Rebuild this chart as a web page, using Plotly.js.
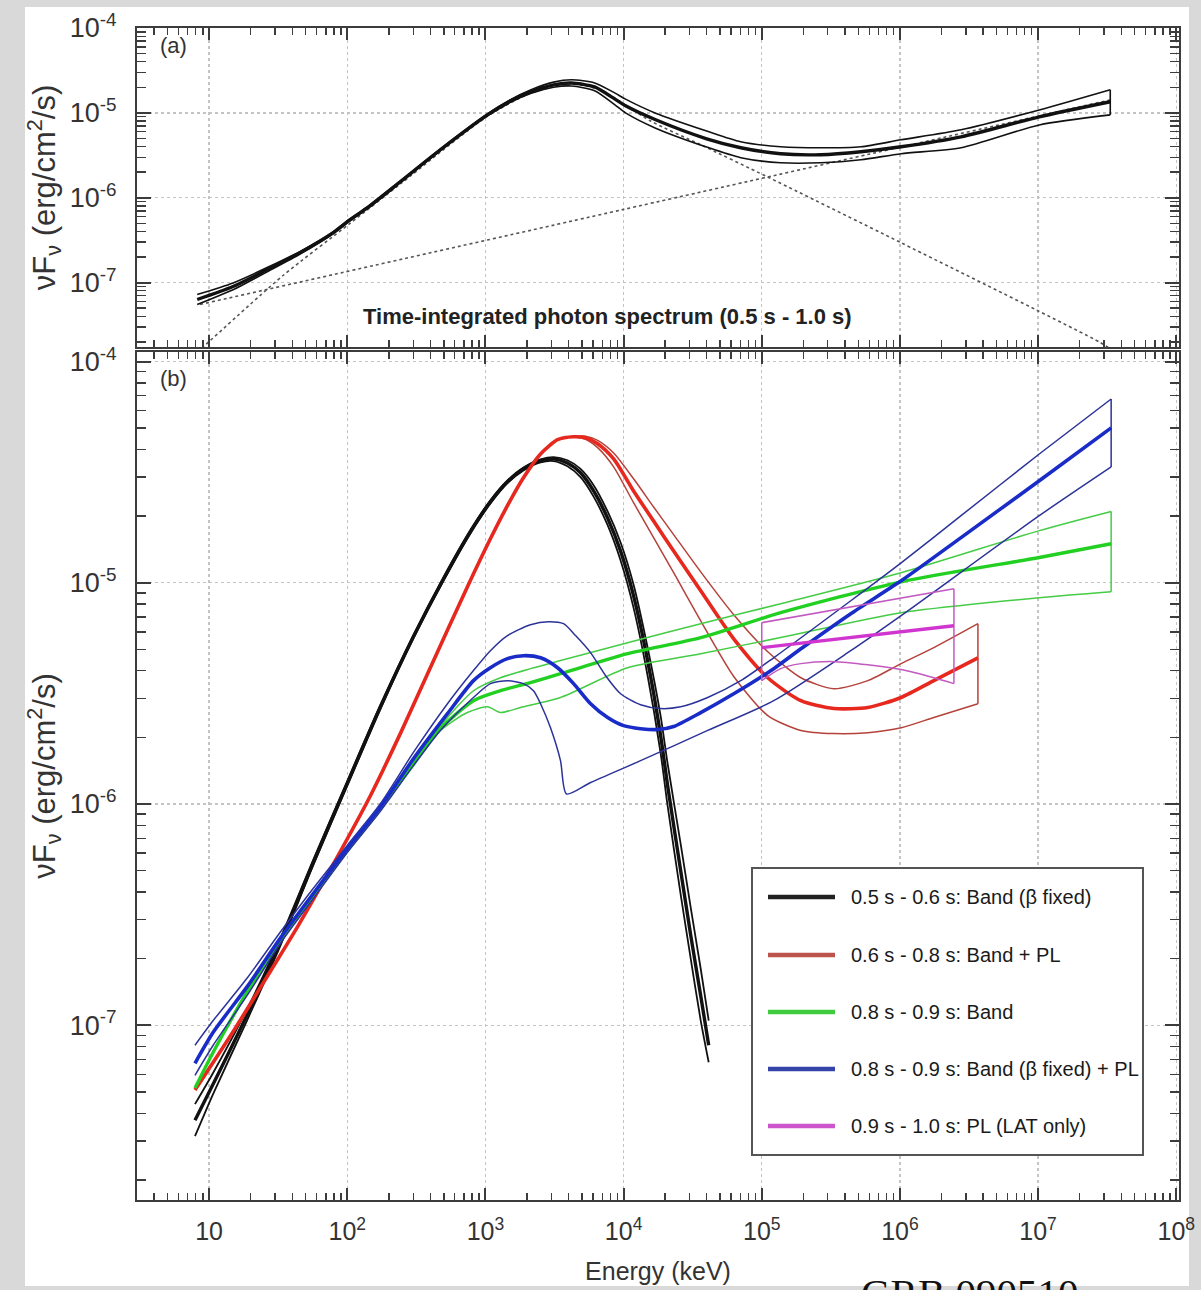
<!DOCTYPE html>
<html>
<head>
<meta charset="utf-8">
<script src="https://cdn.plot.ly/plotly-3.0.1.min.js"></script>
<style>
  html, body { margin: 0; padding: 0; background: #d9d9d9; overflow: hidden; }
  #chart { width: 1201px; height: 1290px; }
</style>
</head>
<body>
<div id="chart"></div>
<script>
// ---------- Panel (a): time-integrated spectrum, 0.5 s - 1.0 s ----------
// energies in keV, fluxes in erg/cm^2/s
const totalEnergy = [8.2, 14.9, 26.3, 45.6, 79.3, 105, 140, 242, 472, 1033, 1517, 2118, 3113, 4198, 6166, 8610, 10330, 17060, 39930, 70470, 1.37e5, 2.68e5, 5.22e5, 1.02e6, 2.77e6, 1.02e7, 3.33e7];
const totalFlux   = [6.31e-8, 8.97e-8, 1.42e-7, 2.25e-7, 3.88e-7, 5.51e-7, 7.63e-7, 1.54e-6, 3.67e-6, 9.46e-6, 1.38e-5, 1.77e-5, 2.14e-5, 2.25e-5, 2.02e-5, 1.46e-5, 1.21e-5, 8.28e-6, 4.94e-6, 3.88e-6, 3.29e-6, 3.21e-6, 3.48e-6, 3.98e-6, 5.22e-6, 8.97e-6, 1.35e-5];
const totalFluxHi = [7.23e-8, 9.9e-8, 1.50e-7, 2.33e-7, 3.98e-7, 5.65e-7, 7.8e-7, 1.58e-6, 3.76e-6, 9.7e-6, 1.43e-5, 1.86e-5, 2.30e-5, 2.45e-5, 2.25e-5, 1.72e-5, 1.45e-5, 9.9e-6, 6.1e-6, 4.56e-6, 3.98e-6, 3.87e-6, 3.98e-6, 4.81e-6, 6.31e-6, 1.08e-5, 1.87e-5];
const totalFluxLo = [5.5e-8, 8.2e-8, 1.34e-7, 2.17e-7, 3.78e-7, 5.37e-7, 7.45e-7, 1.50e-6, 3.58e-6, 9.2e-6, 1.33e-5, 1.69e-5, 2.0e-5, 2.07e-5, 1.82e-5, 1.25e-5, 1.0e-5, 6.6e-6, 3.95e-6, 2.96e-6, 2.58e-6, 2.58e-6, 2.80e-6, 3.3e-6, 3.88e-6, 7.2e-6, 9.46e-6];
// Band and power-law components (dotted)
const bandCompEnergy = [8.2, 34.3, 105, 242, 1033, 2118, 4198, 6814, 15700, 36150, 1.09e5, 1.02e6, 2.81e7, 3.38e7];
const bandCompFlux   = [1.5e-8, 1.21e-7, 5.0e-7, 1.45e-6, 9.1e-6, 1.70e-5, 2.2e-5, 1.85e-5, 8.0e-6, 4.2e-6, 1.77e-6, 2.94e-7, 1.97e-8, 1.63e-8];
const plCompEnergy = [8.6, 9840, 3.33e7];
const plCompFlux   = [5.51e-8, 7.23e-7, 1.42e-5];

// ---------- Panel (b): time-resolved fits ----------
// 0.5 s - 0.6 s: Band (beta fixed)
const blackEnergy = [7.9, 10.7, 18.8, 32.7, 56.8, 100, 173, 301, 497, 778, 1086, 1443, 1884, 2505, 3113, 3925, 4880, 6067, 7665, 9512, 11810, 14920, 18530, 20830, 25880, 30610, 36150, 41300];
const blackFlux   = [3.72e-8, 5.42e-8, 1.11e-7, 2.37e-7, 5.44e-7, 1.24e-6, 2.73e-6, 5.70e-6, 1.04e-5, 1.70e-5, 2.32e-5, 2.86e-5, 3.27e-5, 3.56e-5, 3.63e-5, 3.48e-5, 3.14e-5, 2.60e-5, 1.96e-5, 1.39e-5, 8.73e-6, 4.45e-6, 2.04e-6, 1.21e-6, 5.01e-7, 2.55e-7, 1.36e-7, 8.12e-8];
const blackFluxHi = [4.40e-8, 6.1e-8, 1.18e-7, 2.46e-7, 5.6e-7, 1.27e-6, 2.79e-6, 5.8e-6, 1.06e-5, 1.73e-5, 2.36e-5, 2.90e-5, 3.32e-5, 3.61e-5, 3.70e-5, 3.58e-5, 3.27e-5, 2.76e-5, 2.10e-5, 1.52e-5, 9.8e-6, 5.1e-6, 2.5e-6, 1.52e-6, 6.6e-7, 3.4e-7, 1.8e-7, 1.05e-7];
const blackFluxLo = [3.15e-8, 4.9e-8, 1.05e-7, 2.28e-7, 5.3e-7, 1.21e-6, 2.67e-6, 5.6e-6, 1.02e-5, 1.67e-5, 2.28e-5, 2.82e-5, 3.22e-5, 3.50e-5, 3.55e-5, 3.36e-5, 3.0e-5, 2.45e-5, 1.82e-5, 1.26e-5, 7.7e-6, 3.8e-6, 1.7e-6, 9.8e-7, 3.9e-7, 2.0e-7, 1.05e-7, 6.8e-8];

// 0.6 s - 0.8 s: Band + PL
const redEnergy = [7.9, 14.2, 24.6, 43.4, 75.4, 147, 242, 399, 741, 1086, 1443, 1884, 2505, 3328, 4344, 5306, 6488, 8472, 11810, 16490, 23030, 36150, 62680, 1.105e5, 1.92e5, 3.33e5, 5.86e5, 1.02e6, 1.76e6, 3.67e6];
const redFlux   = [5.09e-8, 8.91e-8, 1.55e-7, 2.77e-7, 5.06e-7, 1.09e-6, 2.08e-6, 4.13e-6, 9.60e-6, 1.58e-5, 2.23e-5, 2.98e-5, 3.82e-5, 4.43e-5, 4.57e-5, 4.52e-5, 4.25e-5, 3.63e-5, 2.60e-5, 1.90e-5, 1.39e-5, 9.20e-6, 5.58e-6, 3.72e-6, 2.93e-6, 2.70e-6, 2.73e-6, 3.03e-6, 3.61e-6, 4.58e-6];
const redBandEnergy = [4344, 5306, 6488, 8472, 11810, 16490, 23030, 36150, 62680, 1.105e5, 1.92e5, 3.33e5, 5.86e5, 1.02e6, 1.76e6, 3.67e6];
const redFluxHi = [4.57e-5, 4.60e-5, 4.40e-5, 3.86e-5, 2.95e-5, 2.20e-5, 1.65e-5, 1.12e-5, 7.17e-6, 4.88e-6, 3.72e-6, 3.32e-6, 3.61e-6, 4.31e-6, 5.09e-6, 6.53e-6];
const redFluxLo = [4.57e-5, 4.45e-5, 4.08e-5, 3.34e-5, 2.30e-5, 1.60e-5, 1.11e-5, 6.73e-6, 3.77e-6, 2.51e-6, 2.15e-6, 2.08e-6, 2.10e-6, 2.21e-6, 2.46e-6, 2.84e-6];

// 0.8 s - 0.9 s: Band
const greenEnergy = [7.9, 10.7, 18.8, 32.7, 56.8, 100, 173, 301, 472, 819, 1285, 2118, 3493, 10690, 36150, 1.37e5, 1.02e6, 1.02e7, 3.38e7];
const greenFlux   = [5.20e-8, 7.55e-8, 1.41e-7, 2.42e-7, 3.86e-7, 6.17e-7, 9.54e-7, 1.51e-6, 2.19e-6, 2.93e-6, 3.25e-6, 3.54e-6, 3.88e-6, 4.78e-6, 5.65e-6, 7.32e-6, 1.01e-5, 1.30e-5, 1.50e-5];
const greenHiEnergy = [301, 472, 819, 1285, 2118, 3493, 10690, 36150, 1.37e5, 1.02e6, 1.02e7, 3.38e7];
const greenFluxHi   = [1.51e-6, 2.25e-6, 3.25e-6, 3.72e-6, 4.09e-6, 4.45e-6, 5.36e-6, 6.53e-6, 8.04e-6, 1.11e-5, 1.72e-5, 2.10e-5];
const greenLoEnergy = [301, 472, 741, 1033, 1285, 1793, 3493, 10690, 36150, 1.37e5, 1.02e6, 1.02e7, 3.38e7];
const greenFluxLo   = [1.51e-6, 2.15e-6, 2.59e-6, 2.75e-6, 2.59e-6, 2.73e-6, 3.03e-6, 4.13e-6, 4.78e-6, 5.65e-6, 7.32e-6, 8.55e-6, 9.10e-6];

// 0.8 s - 0.9 s: Band (beta fixed) + PL
const blueEnergy = [7.9, 10.7, 18.8, 32.7, 56.8, 100, 173, 301, 531, 819, 1086, 1443, 1884, 2505, 3328, 4344, 5768, 7665, 10000, 13270, 17630, 23030, 36150, 62680, 1.22e5, 1.92e5, 4.41e5, 1.02e6, 2.77e6, 1.02e7, 3.38e7];
const blueFlux   = [6.73e-8, 9.29e-8, 1.49e-7, 2.47e-7, 3.94e-7, 6.29e-7, 9.64e-7, 1.60e-6, 2.56e-6, 3.61e-6, 4.13e-6, 4.54e-6, 4.68e-6, 4.58e-6, 4.13e-6, 3.50e-6, 2.84e-6, 2.46e-6, 2.26e-6, 2.19e-6, 2.17e-6, 2.24e-6, 2.59e-6, 3.15e-6, 4.09e-6, 5.03e-6, 7.25e-6, 1.02e-5, 1.60e-5, 2.89e-5, 5.01e-5];
const blueHiEnergy = [7.9, 10.7, 18.8, 32.7, 56.8, 100, 173, 301, 531, 819, 1086, 1443, 2118, 2864, 3672, 4490, 5768, 7413, 9512, 13270, 18530, 25880, 40620, 70470, 1.22e5, 4.41e5, 1.02e6, 2.77e6, 1.02e7, 3.38e7];
const blueFluxHi   = [8.12e-8, 1.05e-7, 1.63e-7, 2.63e-7, 4.16e-7, 6.50e-7, 1.0e-6, 1.71e-6, 2.84e-6, 4.01e-6, 4.93e-6, 5.77e-6, 6.46e-6, 6.67e-6, 6.53e-6, 5.77e-6, 4.83e-6, 3.80e-6, 3.15e-6, 2.81e-6, 2.70e-6, 2.75e-6, 3.03e-6, 3.61e-6, 4.58e-6, 8.29e-6, 1.23e-5, 2.01e-5, 3.82e-5, 6.77e-5];
const blueLoEnergy = [7.9, 10.7, 18.8, 32.7, 56.8, 100, 173, 301, 472, 819, 1086, 1443, 1884, 2227, 2505, 2958, 3493, 3862, 5768, 13270, 40620, 1.22e5, 4.41e5, 1.02e6, 1.02e7, 3.38e7];
const blueFluxLo   = [5.94e-8, 8.12e-8, 1.36e-7, 2.34e-7, 3.74e-7, 6.04e-7, 9.25e-7, 1.49e-6, 2.15e-6, 3.03e-6, 3.50e-6, 3.61e-6, 3.50e-6, 3.25e-6, 2.84e-6, 2.21e-6, 1.57e-6, 1.11e-6, 1.25e-6, 1.57e-6, 2.15e-6, 2.93e-6, 4.93e-6, 7.10e-6, 2.01e-5, 3.34e-5];

// 0.9 s - 1.0 s: PL (LAT only)
const magentaEnergy = [1.0e5, 2.46e6];
const magentaFlux   = [5.09e-6, 6.39e-6];
const magentaFluxHi = [6.60e-6, 9.40e-6];
const magentaLoEnergy = [1.0e5, 1.37e5, 1.92e5, 3.33e5, 5.86e5, 1.02e6, 1.76e6, 2.46e6];
const magentaFluxLo   = [3.61e-6, 4.09e-6, 4.31e-6, 4.40e-6, 4.26e-6, 4.05e-6, 3.72e-6, 3.50e-6];

const intervalLabels = [
  '0.5 s - 0.6 s: Band (\u03b2 fixed)',
  '0.6 s - 0.8 s: Band + PL',
  '0.8 s - 0.9 s: Band',
  '0.8 s - 0.9 s: Band (\u03b2 fixed) + PL',
  '0.9 s - 1.0 s: PL (LAT only)'
];
const legendColors = ['#222222', '#bd544b', '#3fcd3f', '#3444a8', '#cc55cc'];

// flux axis tick labels
const fluxTickVals = [1e-8, 1e-7, 1e-6, 1e-5, 1e-4];
const fluxTickText = ['10<sup>-8</sup>', '10<sup>-7</sup>', '10<sup>-6</sup>', '10<sup>-5</sup>', '10<sup>-4</sup>'];

// ---------- helpers ----------
function curve(x, y, color, width, xa, ya, dash) {
  return {
    type: 'scatter', mode: 'lines', x: x, y: y, xaxis: xa, yaxis: ya,
    line: { color: color, width: width, shape: 'spline', smoothing: 0.7, dash: dash || 'solid' },
    hoverinfo: 'skip', showlegend: false
  };
}
// vertical closing edge of a butterfly contour, taken from the contour end values
function edge(e, fTop, fBot, color, width, xa, ya) {
  return {
    type: 'scatter', mode: 'lines', x: [e, e], y: [fTop, fBot], xaxis: xa, yaxis: ya,
    line: { color: color, width: width }, hoverinfo: 'skip', showlegend: false
  };
}
const last = a => a[a.length - 1];

const C = {
  black: '#111111', red: '#e6281e', redThin: '#b5423a',
  green: '#22d022', greenThin: '#45cc45',
  blue: '#1a2cc8', blueThin: '#2b3399',
  magenta: '#d035d0', magentaThin: '#c25ac2'
};

const traces = [
  // panel (a)
  curve(bandCompEnergy, bandCompFlux, '#555555', 1.6, 'x2', 'y2', 'dot'),
  curve(plCompEnergy, plCompFlux, '#555555', 1.6, 'x2', 'y2', 'dot'),
  curve(totalEnergy, totalFluxHi, C.black, 1.6, 'x2', 'y2'),
  curve(totalEnergy, totalFluxLo, C.black, 1.6, 'x2', 'y2'),
  curve(totalEnergy, totalFlux, C.black, 3.4, 'x2', 'y2'),
  edge(last(totalEnergy), last(totalFluxHi), last(totalFluxLo), C.black, 1.6, 'x2', 'y2'),

  // panel (b)
  curve(blackEnergy, blackFluxHi, C.black, 1.8, 'x', 'y'),
  curve(blackEnergy, blackFluxLo, C.black, 1.8, 'x', 'y'),
  curve(blackEnergy, blackFlux, C.black, 3.4, 'x', 'y'),

  curve(redBandEnergy, redFluxHi, C.redThin, 1.5, 'x', 'y'),
  curve(redBandEnergy, redFluxLo, C.redThin, 1.5, 'x', 'y'),
  edge(last(redBandEnergy), last(redFluxHi), last(redFluxLo), C.redThin, 1.5, 'x', 'y'),
  curve(redEnergy, redFlux, C.red, 3.6, 'x', 'y'),

  curve(greenHiEnergy, greenFluxHi, C.greenThin, 1.5, 'x', 'y'),
  curve(greenLoEnergy, greenFluxLo, C.greenThin, 1.5, 'x', 'y'),
  edge(last(greenHiEnergy), last(greenFluxHi), last(greenFluxLo), C.greenThin, 1.5, 'x', 'y'),
  curve(greenEnergy, greenFlux, C.green, 3.4, 'x', 'y'),

  curve(blueHiEnergy, blueFluxHi, C.blueThin, 1.5, 'x', 'y'),
  curve(blueLoEnergy, blueFluxLo, C.blueThin, 1.5, 'x', 'y'),
  edge(last(blueHiEnergy), last(blueFluxHi), last(blueFluxLo), C.blueThin, 1.5, 'x', 'y'),
  curve(blueEnergy, blueFlux, C.blue, 3.6, 'x', 'y'),

  curve(magentaEnergy, magentaFluxHi, C.magentaThin, 1.5, 'x', 'y'),
  curve(magentaLoEnergy, magentaFluxLo, C.magentaThin, 1.5, 'x', 'y'),
  edge(magentaEnergy[0], magentaFluxHi[0], magentaFluxLo[0], C.magentaThin, 1.5, 'x', 'y'),
  edge(last(magentaEnergy), last(magentaFluxHi), last(magentaFluxLo), C.magentaThin, 1.5, 'x', 'y'),
  curve(magentaEnergy, magentaFlux, C.magenta, 3.4, 'x', 'y')
];

// ---------- layout ----------
const SANS = '"Liberation Sans", Arial, sans-serif';
const W = 1201, H = 1290, mL = 137, mR = 22, mT = 28, mB = 90;
const plotW = W - mL - mR, plotH = H - mT - mB;
const px = v => (v - mL) / plotW;           // page x -> paper x
const py = v => (H - mB - v) / plotH;       // page y -> paper y

const spine = { showline: true, linecolor: '#3c3c3c', linewidth: 2, mirror: 'ticks' };
const minorTicks = (len) => ({ ticks: 'inside', ticklen: len, tickwidth: 1.4, tickcolor: '#3c3c3c',
  tickmode: 'linear', tick0: 0, dtick: 'D1', showgrid: false });
function logX(extra) {
  return Object.assign({
    type: 'log', range: [0.478, 8.02], dtick: 1, exponentformat: 'power',
    ticks: 'inside', ticklen: 12, tickwidth: 2, tickcolor: '#3c3c3c',
    minor: minorTicks(7),
    showgrid: true, gridcolor: '#c4c4c4', griddash: 'dot', gridwidth: 1.4,
    tickfont: { family: SANS, size: 20, color: '#333' }, zeroline: false
  }, spine, extra);
}
function logY(extra) {
  return Object.assign({
    type: 'log', tickmode: 'array', tickvals: fluxTickVals, ticktext: fluxTickText,
    ticks: 'inside', ticklen: 14, tickwidth: 2, tickcolor: '#3c3c3c',
    minor: minorTicks(9),
    showgrid: true, gridcolor: '#c4c4c4', griddash: 'dot', gridwidth: 1.4,
    tickfont: { family: SANS, size: 27, color: '#333' }, ticklabelstandoff: 13, zeroline: false
  }, spine, extra);
}
const yTitle = {
  text: '\u03bdF<sub>\u03bd</sub> (erg/cm<sup>2</sup>/s)',
  font: { family: SANS, size: 31, color: '#333' }, standoff: 5
};

const shapes = [
  // white sheet behind the figure
  { type: 'rect', xref: 'paper', yref: 'paper', layer: 'below',
    x0: px(25), x1: px(1189), y0: py(1286), y1: py(7),
    fillcolor: '#ffffff', line: { width: 0 } },
  // legend frame
  { type: 'rect', xref: 'paper', yref: 'paper', layer: 'above',
    x0: px(752), x1: px(1143), y0: py(1155), y1: py(868),
    fillcolor: '#ffffff', line: { color: '#555555', width: 2 } }
];
function note(text, x, y, font, extra) {
  return Object.assign({ text: text, xref: 'paper', yref: 'paper', x: px(x), y: py(y),
    xanchor: 'center', yanchor: 'middle', showarrow: false, font: font }, extra || {});
}
const annotations = [
  note('(a)', 173, 45, { family: SANS, size: 22, color: '#333' }),
  note('(b)', 173, 378, { family: SANS, size: 22, color: '#333' }),
  note('<b>Time-integrated photon spectrum (0.5 s - 1.0 s)</b>', 607, 316, { family: SANS, size: 22, color: '#222' }),
  note('GRB 090510', 970, 1269, { family: '"Liberation Serif", "DejaVu Serif", serif', size: 41, color: '#111' },
       { yanchor: 'top', borderpad: 0 })
];
const rowY = [897, 955, 1012, 1069, 1126];
intervalLabels.forEach((label, i) => {
  shapes.push({ type: 'line', xref: 'paper', yref: 'paper', layer: 'above',
    x0: px(768), x1: px(835), y0: py(rowY[i]), y1: py(rowY[i]),
    line: { color: legendColors[i], width: 4.5 } });
  annotations.push(note(label, 849, rowY[i], { family: SANS, size: 20, color: '#1a1a1a' }, { xanchor: 'left' }));
});

const layout = {
  width: W, height: H,
  margin: { l: mL, r: mR, t: mT, b: mB, pad: 0 },
  paper_bgcolor: '#d9d9d9', plot_bgcolor: '#ffffff',
  font: { family: SANS, color: '#333' },
  showlegend: false,
  xaxis: logX({ anchor: 'y', ticklabelstandoff: 9,
    title: { text: 'Energy (keV)', font: { family: SANS, size: 25, color: '#333' }, standoff: 18 } }),
  yaxis: logY({ anchor: 'x', domain: [0, py(352)], range: [-7.79, -3.957], title: yTitle }),
  xaxis2: logX({ anchor: 'y2', showticklabels: false, matches: 'x' }),
  yaxis2: logY({ anchor: 'x2', domain: [py(347), 1], range: [-7.76, -4.0], title: yTitle }),
  shapes: shapes,
  annotations: annotations
};

Plotly.newPlot('chart', traces, layout, { staticPlot: true, displayModeBar: false });
</script>
</body>
</html>
